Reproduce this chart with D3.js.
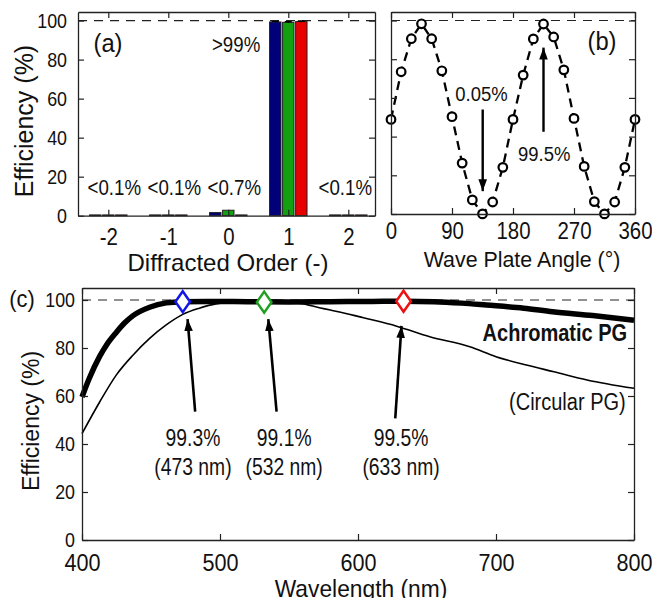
<!DOCTYPE html>
<html>
<head>
<meta charset="utf-8">
<script src="https://cdn.jsdelivr.net/npm/d3@7"></script>
<style>
  body { margin: 0; background: #fff; }
  svg text { font-family: "Liberation Sans", Arial, sans-serif; fill: #111; }
</style>
</head>
<body>
<div id="chart"></div>
<script>

// (a) efficiency per diffraction order, one series per laser
var orders = [-2, -1, 0, 1, 2];
var laserColors = ["#00007a", "#12a012", "#e80000"];
var effBlue  = [0.4, 0.4, 1.6, 99.3, 0.4];
var effGreen = [0.4, 0.4, 2.8, 99.1, 0.4];
var effRed   = [0.4, 0.4, 0.4, 99.5, 0.4];
var errFirst = [0.3, 0.3, 0.3];
var orderNotes = ["<0.1%", "<0.1%", "<0.7%", "<0.1%"];
var noteOrders = [-2, -1, 0, 2];

// (b) efficiency vs wave plate angle
var angles = [0, 15, 30, 45, 60, 75, 90, 105, 120, 135, 150, 165, 180,
              195, 210, 225, 240, 255, 270, 285, 300, 315, 330, 345, 360];
var angleEff = [48.9, 73.5, 90.6, 98.3, 90.6, 74, 50.3, 26.3, 7.3, 0.05, 6.2, 24.1, 48.9,
                71.8, 90.5, 98.2, 91.5, 74.5, 49.4, 24.6, 6.4, 0.05, 6.2, 24.1, 48.9];

// (c) spectra
var wlAch = [400, 405, 412.8, 418, 424.8, 431, 437, 449, 461, 473, 490, 520, 550, 580,
             610, 633, 655, 675, 693, 720, 741, 770, 800];
var effAch = [59.6, 67, 76.5, 81.5, 86.5, 90.5, 93.5, 97, 98.8, 99.3, 99.4, 99.3, 99.2, 99.3,
              99.4, 99.5, 99.3, 98.7, 97.9, 96.6, 95.1, 93.5, 91.6];
var wlCirc = [400, 412.8, 424.8, 436.9, 449, 461, 473, 485, 497, 510, 525, 540, 558, 572,
              580, 597, 604, 628, 652, 681, 700, 722, 742, 766, 800];
var effCirc = [44.3, 57.5, 68.7, 77, 84, 89.6, 94, 96.6, 98.4, 99.0, 99.2, 99.1, 98.6, 96.8,
               95.8, 93.6, 92.6, 89.1, 84.7, 80.5, 76.4, 72.9, 70.1, 66.7, 63.2];
var markWl = [473, 532, 633];
var markEff = [99.3, 99.1, 99.5];
var markColors = ["#1515e6", "#1f9f1f", "#ee1111"];
var markNotes = ["99.3%", "99.1%", "99.5%"];
var markNames = ["(473 nm)", "(532 nm)", "(633 nm)"];

var width = 652, height = 598;

var svg = d3.select("#chart").append("svg")
    .attr("width", width)
    .attr("height", height)
    .style("background", "#fff");

// arrow head
svg.append("defs").append("marker")
    .attr("id", "head")
    .attr("markerUnits", "userSpaceOnUse")
    .attr("viewBox", "0 -5 10 10")
    .attr("refX", 10)
    .attr("refY", 0)
    .attr("markerWidth", 12)
    .attr("markerHeight", 12)
    .attr("orient", "auto")
    .append("path")
    .attr("d", "M0,-3.6L10,0L0,3.6Z")
    .attr("fill", "#000");

// text helper, sx squeezes the glyphs like the narrow font of the figure
function label(g, x, y, s, size, o) {
    o = o || {};
    var t = "translate(" + x + "," + y + ")";
    if (o.rot) t += " rotate(" + o.rot + ")";
    t += " scale(" + (o.sx || 1) + ",1)";
    return g.append("text")
        .attr("transform", t)
        .attr("text-anchor", o.anchor || "middle")
        .attr("dy", o.mid ? "0.35em" : null)
        .style("font-size", size + "px")
        .style("font-weight", o.bold ? "bold" : null)
        .text(s);
}

// mirrored matlab-like box with inward ticks
function box(g, x, y, xTicks, yTicks, yLabels, xPad, yPad, xSize, ySize, xsx) {
    var gb = g.append("g").attr("transform", "translate(0," + y.range()[0] + ")")
        .call(d3.axisBottom(x).tickValues(xTicks).tickSizeInner(-6).tickSizeOuter(0)
            .tickPadding(xPad).tickFormat(function (d) { return String(d); }));
    gb.selectAll("text")
        .style("font-size", xSize + "px")
        .attr("transform", "scale(" + xsx + ",1)");
    g.append("g").attr("transform", "translate(0," + y.range()[1] + ")")
        .call(d3.axisTop(x).tickValues(xTicks).tickSizeInner(-6).tickSizeOuter(0).tickFormat(""));
    var gl = g.append("g").attr("transform", "translate(" + x.range()[0] + ",0)")
        .call(d3.axisLeft(y).tickValues(yTicks).tickSizeInner(-6).tickSizeOuter(0)
            .tickPadding(yPad).tickFormat(yLabels ? function (d) { return String(d); } : ""));
    gl.selectAll("text")
        .style("font-size", ySize + "px")
        .attr("x", 0)
        .attr("transform", "translate(" + (-yPad) + ",0) scale(0.85,1)");
    g.append("g").attr("transform", "translate(" + x.range()[1] + ",0)")
        .call(d3.axisRight(y).tickValues(yTicks).tickSizeInner(-6).tickSizeOuter(0).tickFormat(""));
    g.selectAll(".domain").attr("stroke", "#222").attr("stroke-width", 1.3);
    g.selectAll(".tick line").attr("stroke", "#222").attr("stroke-width", 1.2);
}

function dashed100(g, x, y) {
    g.append("line")
        .attr("x1", x.range()[0]).attr("x2", x.range()[1])
        .attr("y1", y(100)).attr("y2", y(100))
        .attr("stroke", "#222")
        .attr("stroke-width", 1.2)
        .attr("stroke-dasharray", "9,7");
}

var yTicks = [0, 20, 40, 60, 80, 100];

// ---------- panel (a)
var xa = d3.scaleLinear().domain([-2.505, 2.445]).range([78, 375]);
var ya = d3.scaleLinear().domain([0, 104.4]).range([215.7, 12]);
var ga = svg.append("g");

dashed100(ga, xa, ya);

var series = [effBlue, effGreen, effRed];
var barW = xa(0.19) - xa(0), barStep = 0.217;
series.forEach(function (vals, s) {
    ga.append("g").selectAll("rect")
        .data(vals)
        .enter().append("rect")
        .attr("x", function (d, i) { return xa(orders[i] + (s - 1) * barStep) - barW / 2; })
        .attr("y", function (d) { return ya(d); })
        .attr("width", barW)
        .attr("height", function (d) { return ya(0) - ya(d); })
        .attr("fill", laserColors[s])
        .attr("stroke", "#222")
        .attr("stroke-width", 1);
    // error bar on first order
    var v = vals[3], e = errFirst[s], cx = xa(1 + (s - 1) * barStep);
    ga.append("path")
        .attr("d", "M" + cx + "," + ya(v - e) + "V" + ya(v + e) +
            "M" + (cx - 3.5) + "," + ya(v + e) + "H" + (cx + 3.5))
        .attr("stroke", "#000")
        .attr("stroke-width", 1.3)
        .attr("fill", "none");
});

box(ga, xa, ya, orders, yTicks, true, 12, 11, 24, 21, 0.85);

orderNotes.forEach(function (d, i) {
    label(ga, xa(noteOrders[i]) + (noteOrders[i] == 2 ? -3 : 6), ya(14.7), d, 22,
        {sx: 0.85, mid: true});
});
label(ga, xa(0.13), ya(88), ">99%", 22, {sx: 0.85, mid: true});
label(ga, 108, 43, "(a)", 25, {sx: 0.95, mid: true});
label(ga, 33, 121, "Efficiency (%)", 25, {rot: -90});
label(ga, 228, 271, "Diffracted Order (-)", 24);

// ---------- panel (b)
var xb = d3.scaleLinear().domain([0, 360]).range([391, 635]);
var yb = d3.scaleLinear().domain([0, 104.4]).range([214, 12]);
var gbp = svg.append("g");

dashed100(gbp, xb, yb);

var lineB = d3.line()
    .x(function (d, i) { return xb(angles[i]); })
    .y(function (d) { return yb(d); });

gbp.append("path")
    .datum(angleEff)
    .attr("d", lineB)
    .attr("fill", "none")
    .attr("stroke", "#000")
    .attr("stroke-width", 2.3)
    .attr("stroke-dasharray", "9,6");

gbp.selectAll("circle")
    .data(angleEff)
    .enter().append("circle")
    .attr("cx", function (d, i) { return xb(angles[i]); })
    .attr("cy", function (d) { return yb(d); })
    .attr("r", 4.3)
    .attr("fill", "#fff")
    .attr("stroke", "#000")
    .attr("stroke-width", 2.2);

box(gbp, xb, yb, [0, 90, 180, 270, 360], yTicks, false, 8, 8, 24, 21, 0.85);

gbp.append("line")
    .attr("x1", xb(135.3)).attr("x2", xb(135.3))
    .attr("y1", yb(54)).attr("y2", yb(11.8))
    .attr("stroke", "#000").attr("stroke-width", 2.4)
    .attr("marker-end", "url(#head)");
gbp.append("line")
    .attr("x1", xb(225)).attr("x2", xb(225))
    .attr("y1", yb(42.5)).attr("y2", yb(86))
    .attr("stroke", "#000").attr("stroke-width", 2.4)
    .attr("marker-end", "url(#head)");

label(gbp, xb(133.5), yb(62), "0.05%", 21, {sx: 0.88, mid: true});
label(gbp, xb(226), yb(31), "99.5%", 21, {sx: 0.88, mid: true});
label(gbp, 602, 41, "(b)", 25, {sx: 0.95, mid: true});
label(gbp, 522, 267, "Wave Plate Angle (\u00b0)", 23, {sx: 0.93});

// ---------- panel (c)
var xc = d3.scaleLinear().domain([400, 800]).range([82, 634]);
var yc = d3.scaleLinear().domain([0, 105]).range([540, 288]);
var gc = svg.append("g");

dashed100(gc, xc, yc);

gc.append("path")
    .datum(effCirc)
    .attr("d", d3.line()
        .x(function (d, i) { return xc(wlCirc[i]); })
        .y(function (d) { return yc(d); })
        .curve(d3.curveMonotoneX))
    .attr("fill", "none")
    .attr("stroke", "#000")
    .attr("stroke-width", 1.6);

gc.append("path")
    .datum(effAch)
    .attr("d", d3.line()
        .x(function (d, i) { return xc(wlAch[i]); })
        .y(function (d) { return yc(d); })
        .curve(d3.curveMonotoneX))
    .attr("fill", "none")
    .attr("stroke", "#000")
    .attr("stroke-width", 5.5);

box(gc, xc, yc, [400, 500, 600, 700, 800], yTicks, true, 14, 7, 24, 21, 0.9);

gc.selectAll(".mark")
    .data(markEff)
    .enter().append("path")
    .attr("class", "mark")
    .attr("transform", function (d, i) { return "translate(" + xc(markWl[i]) + "," + yc(d) + ")"; })
    .attr("d", "M0,-10.5L7.3,0L0,10.5L-7.3,0Z")
    .attr("fill", "#fff")
    .attr("stroke", function (d, i) { return markColors[i]; })
    .attr("stroke-width", 2.5);

// annotation arrows, in data units
var tailWl = [482, 541, 627], tailEff = [53.5, 53.5, 50.7];
var tipWl = [476.5, 535, 631.5], tipEff = [92, 92, 89.2];
var noteWl = [480.4, 546.5, 631.2];

tailWl.forEach(function (t, i) {
    gc.append("line")
        .attr("x1", xc(t)).attr("y1", yc(tailEff[i]))
        .attr("x2", xc(tipWl[i])).attr("y2", yc(tipEff[i]))
        .attr("stroke", "#000").attr("stroke-width", 2.6)
        .attr("marker-end", "url(#head)");
    label(gc, xc(noteWl[i]), yc(39), markNotes[i], 23, {sx: 0.84});
    label(gc, xc(noteWl[i]), yc(39) + 29, markNames[i], 23, {sx: 0.84});
});

label(gc, xc(795), yc(86.3), "Achromatic PG", 23, {sx: 0.87, anchor: "end", bold: true, mid: true});
label(gc, xc(794), yc(57.6), "(Circular PG)", 23, {sx: 0.87, anchor: "end", mid: true});
label(gc, 22, 299, "(c)", 23, {sx: 0.95, mid: true});
label(gc, 39, 421, "Efficiency (%)", 23, {rot: -90});
label(gc, 361, 597, "Wavelength (nm)", 24, {sx: 0.95});

</script>
</body>
</html>
